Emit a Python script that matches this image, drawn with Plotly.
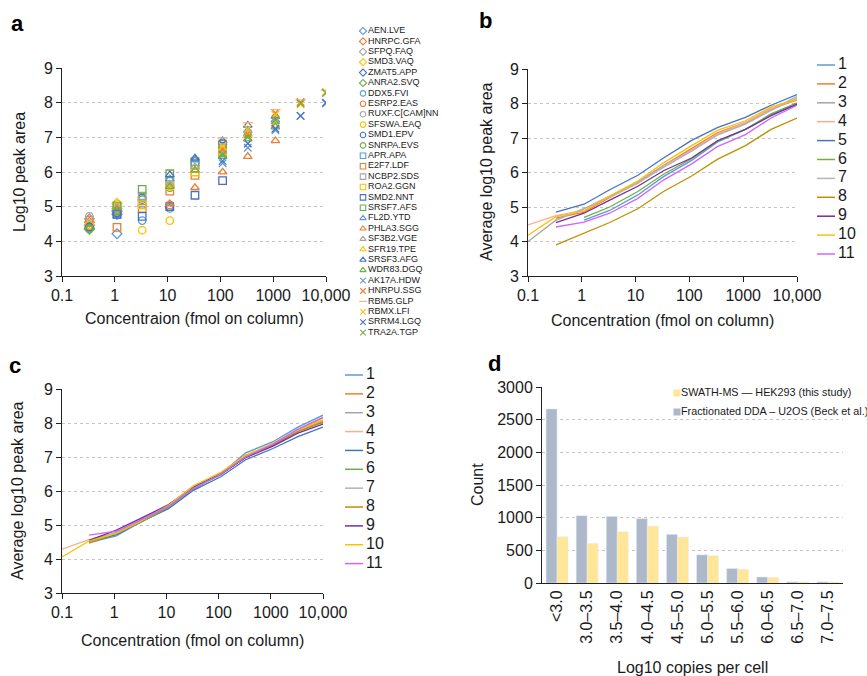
import plotly.graph_objects as go

W, H = 867, 676
FONT = "Liberation Sans, Arial, Helvetica, sans-serif"
TXT = "#1a1a1a"

# ---------------- shared ----------------
conc = [0.1, 0.33, 1.1, 3.3, 11, 33, 110, 330, 1100, 3300, 10000]
conc_ticks = [0.1, 1, 10, 100, 1000, 10000]
conc_ticktext = ["0.1", "1", "10", "100", "1000", "10,000"]
palette6 = ["#5B9BD5", "#ED7D31", "#A5A5A5", "#FFC000", "#4472C4", "#70AD47"]

# ---------------- panel a ----------------
diamond_names = ["AEN.LVE", "HNRPC.GFA", "SFPQ.FAQ", "SMD3.VAQ", "ZMAT5.APP", "ANRA2.SVQ"]
diamond_conc = [0.33, 1.1]
diamond_vals = [[4.45, 4.22], [4.55, 4.90], [4.65, 4.95], [4.48, 5.10], [4.38, 4.78], [4.35, 4.85]]

circle_names = ["DDX5.FVI", "ESRP2.EAS", "RUXF.C[CAM]NN", "SFSWA.EAQ", "SMD1.EPV", "SNRPA.EVS"]
circle_conc = [0.33, 1.1, 3.3, 11]
circle_vals = [[4.40, 4.80, 4.60, 4.95], [4.62, 4.90, 5.05, 5.05], [4.72, 4.95, 5.28, 5.60],
               [4.45, 5.08, 4.32, 4.60], [4.42, 4.82, 5.25, 5.00], [4.36, 4.88, 5.20, 5.55]]

square_names = ["APR.APA", "E2F7.LDF", "NCBP2.SDS", "ROA2.GGN", "SMD2.NNT", "SRSF7.AFS"]
square_conc = [1.1, 3.3, 11, 33, 110]
square_vals = [[4.78, 5.10, 5.75, 6.20, 6.55], [4.40, 4.95, 5.45, 5.90, 6.60], [4.98, 5.30, 5.75, 6.20, 6.70],
               [5.00, 5.05, 5.60, 6.00, 6.65], [4.78, 4.72, 5.00, 5.33, 5.75], [5.02, 5.50, 5.95, 6.30, 6.80]]

triangle_names = ["FL2D.YTD", "PHLA3.SGG", "SF3B2.VGE", "SFR19.TPE", "SRSF3.AFG", "WDR83.DGQ"]
triangle_conc = [11, 33, 110, 330, 1100]
triangle_vals = [[5.80, 6.35, 6.85, 7.20, 7.50], [5.08, 5.55, 6.00, 6.45, 6.90], [5.65, 6.15, 6.60, 7.10, 7.45],
                 [5.60, 6.05, 6.55, 7.05, 7.35], [5.92, 6.40, 6.90, 7.35, 7.60], [5.58, 6.05, 6.45, 6.95, 7.30]]

cross_names = ["AK17A.HDW", "HNRPU.SSG", "RBM5.GLP", "RBMX.LFI", "SRRM4.LGQ", "TRA2A.TGP"]
cross_conc = [110, 330, 1100, 3300, 10000]
cross_vals = [[6.25, 6.70, 7.20, 7.62, 7.98], [6.65, 7.10, 7.70, 8.02, 8.30], [6.98, 7.42, 7.80, 8.08, 8.36],
              [6.75, 7.25, 7.65, 7.95, 8.30], [6.32, 6.82, 7.25, 7.62, 8.00], [6.50, 7.00, 7.50, 7.98, 8.28]]
cross_colors = ["#5B9BD5", "#ED7D31", "#F4B183", "#FFC000", "#4472C4", "#70AD47"]
cross_symbols = ["x-thin-open", "x-thin-open", "line-ew-open", "x-thin-open", "x-thin-open", "x-thin-open"]

# ---------------- panel b ----------------
b_series = ["1", "2", "3", "4", "5", "6", "7", "8", "9", "10", "11"]
line_colors = ["#5B9BD5", "#ED7D31", "#A5A5A5", "#F8B08C", "#4472C4", "#70AD47",
               "#B4B4B4", "#BF9000", "#7030A0", "#FFC000", "#CC66FF"]
b_vals = [
    [None, None, 4.62, 4.90, 5.35, 5.88, 6.35, 6.88, 7.25, 7.68, 8.00],
    [None, 4.68, 4.85, 5.28, 5.70, 6.20, 6.70, 7.15, 7.45, 7.85, 8.10],
    [4.00, 4.62, 4.95, 5.32, 5.72, 6.20, 6.65, 7.10, 7.42, 7.82, 8.20],
    [4.48, 4.75, 4.90, 5.30, 5.68, 6.18, 6.65, 7.12, 7.45, 7.85, 8.12],
    [None, 4.85, 5.08, 5.50, 5.92, 6.42, 6.93, 7.30, 7.60, 7.95, 8.26],
    [None, None, 4.70, 5.00, 5.45, 5.95, 6.40, 6.90, 7.25, 7.70, 8.02],
    [None, 4.62, 4.95, 5.30, 5.70, 6.15, 6.62, 7.08, 7.40, 7.80, 8.15],
    [None, 3.90, 4.25, 4.55, 4.95, 5.45, 5.90, 6.38, 6.78, 7.25, 7.58],
    [None, 4.55, 4.82, 5.20, 5.60, 6.05, 6.42, 6.92, 7.25, 7.65, 7.98],
    [4.18, 4.72, 4.88, 5.32, 5.75, 6.28, 6.78, 7.22, 7.50, 7.90, 8.12],
    [None, 4.42, 4.56, 4.82, 5.25, 5.78, 6.25, 6.75, 7.10, 7.58, 7.95],
]

# ---------------- panel c ----------------
c_vals = [
    [None, 4.48, 4.68, 5.10, 5.50, 6.05, 6.50, 7.12, 7.45, 7.88, 8.23],
    [None, 4.52, 4.76, 5.15, 5.55, 6.12, 6.52, 7.05, 7.38, 7.80, 8.15],
    [None, 4.50, 4.75, 5.12, 5.52, 6.10, 6.48, 7.00, 7.35, 7.75, 8.05],
    [4.29, 4.57, 4.78, 5.15, 5.57, 6.12, 6.52, 7.02, 7.36, 7.78, 8.08],
    [None, 4.50, 4.72, 5.10, 5.48, 6.02, 6.42, 6.92, 7.25, 7.60, 7.88],
    [None, 4.55, 4.75, 5.08, 5.52, 6.08, 6.48, 7.00, 7.35, 7.75, 8.02],
    [None, 4.48, 4.80, 5.15, 5.55, 6.15, 6.50, 7.02, 7.36, 7.76, 8.05],
    [None, 4.47, 4.75, 5.12, 5.55, 6.10, 6.50, 7.02, 7.35, 7.75, 8.03],
    [None, 4.55, 4.85, 5.20, 5.60, 6.12, 6.50, 6.98, 7.32, 7.70, 7.97],
    [4.06, 4.53, 4.75, 5.12, 5.58, 6.15, 6.55, 7.05, 7.40, 7.80, 8.10],
    [None, 4.70, 4.82, 5.15, 5.55, 6.08, 6.50, 7.00, 7.38, 7.82, 8.17],
]

# ---------------- panel d ----------------
d_bins = ["<3.0", "3.0–3.5", "3.5–4.0", "4.0–4.5", "4.5–5.0", "5.0–5.5",
          "5.5–6.0", "6.0–6.5", "6.5–7.0", "7.0–7.5"]
d_dda = [2665, 1030, 1020, 985, 745, 432, 222, 92, 18, 18]
d_swath = [708, 605, 785, 870, 703, 418, 212, 85, 17, 14]
d_names = ["SWATH-MS — HEK293 (this study)", "Fractionated DDA – U2OS (Beck et al.)"]
d_colors = ["#FFE699", "#ADB9CA"]

# ---------------- layout geometry (pixels) ----------------
def fx(px):
    return px / W

def fy(py):
    return 1 - py / H

fig = go.Figure()

groups = [
    (diamond_names, diamond_conc, diamond_vals, ["diamond-open"] * 6, palette6),
    (circle_names, circle_conc, circle_vals, ["circle-open"] * 6, palette6),
    (square_names, square_conc, square_vals, ["square-open"] * 6, palette6),
    (triangle_names, triangle_conc, triangle_vals, ["triangle-up-open"] * 6, palette6),
    (cross_names, cross_conc, cross_vals, cross_symbols, cross_colors),
]
leg_a_names, leg_a_symbols, leg_a_colors = [], [], []
for names, xs, vals, syms, cols in groups:
    for n, v, s, c in zip(names, vals, syms, cols):
        fig.add_trace(go.Scatter(
            x=xs, y=v, mode="markers", name=n, showlegend=False,
            xaxis="x", yaxis="y",
            marker=dict(symbol=s, size=7.5, color=c, line=dict(color=c, width=1.3)),
        ))
        leg_a_names.append(n)
        leg_a_symbols.append(s)
        leg_a_colors.append(c)

for i, (n, v) in enumerate(zip(b_series, b_vals)):
    fig.add_trace(go.Scatter(x=conc, y=v, mode="lines", name=n, showlegend=False,
                             xaxis="x2", yaxis="y2",
                             line=dict(color=line_colors[i], width=1.3)))
for i, (n, v) in enumerate(zip(b_series, c_vals)):
    fig.add_trace(go.Scatter(x=conc, y=v, mode="lines", name=n, showlegend=False,
                             xaxis="x3", yaxis="y3",
                             line=dict(color=line_colors[i], width=1.3)))

fig.add_trace(go.Bar(x=d_bins, y=d_dda, name=d_names[1], marker_color=d_colors[1],
                     showlegend=False, xaxis="x4", yaxis="y4"))
fig.add_trace(go.Bar(x=d_bins, y=d_swath, name=d_names[0], marker_color=d_colors[0],
                     showlegend=False, xaxis="x4", yaxis="y4"))

# ---------------- custom legends on a pixel overlay ----------------
LA_X, LA_Y0, LA_DY = 363, 31, 10.4
n_a = len(leg_a_names)
ya = [LA_Y0 + i * LA_DY for i in range(n_a)]
fig.add_trace(go.Scatter(
    x=[LA_X] * n_a, y=ya, mode="markers", xaxis="x5", yaxis="y5", showlegend=False,
    hoverinfo="skip", cliponaxis=False,
    marker=dict(symbol=leg_a_symbols, size=5.5, color=leg_a_colors,
                line=dict(color=leg_a_colors, width=1.1))))
fig.add_trace(go.Scatter(
    x=[LA_X + 5] * n_a, y=ya, mode="text", text=leg_a_names, textposition="middle right",
    textfont=dict(size=9, color=TXT, family=FONT), xaxis="x5", yaxis="y5",
    showlegend=False, hoverinfo="skip", cliponaxis=False))

def line_legend(x0, x1, y0, dy):
    ys = [y0 + i * dy for i in range(len(b_series))]
    for i, yy in enumerate(ys):
        fig.add_trace(go.Scatter(x=[x0, x1], y=[yy, yy], mode="lines", xaxis="x5", yaxis="y5",
                                 showlegend=False, hoverinfo="skip", cliponaxis=False,
                                 line=dict(color=line_colors[i], width=1.5)))
    fig.add_trace(go.Scatter(x=[x1 + 3] * len(ys), y=ys, mode="text", text=b_series,
                             textposition="middle right",
                             textfont=dict(size=16, color=TXT, family=FONT),
                             xaxis="x5", yaxis="y5", showlegend=False, hoverinfo="skip",
                             cliponaxis=False))

line_legend(817, 835, 65, 18.9)
line_legend(345, 363, 375, 18.86)

LD_X, LD_Y0, LD_DY = 677, 393, 19
yd = [LD_Y0 + i * LD_DY for i in range(2)]
fig.add_trace(go.Scatter(x=[LD_X] * 2, y=yd, mode="markers", xaxis="x5", yaxis="y5",
                         showlegend=False, hoverinfo="skip", cliponaxis=False,
                         marker=dict(symbol="square", size=7, color=d_colors)))
fig.add_trace(go.Scatter(x=[LD_X + 4] * 2, y=yd, mode="text", text=d_names,
                         textposition="middle right",
                         textfont=dict(size=10.8, color=TXT, family=FONT),
                         xaxis="x5", yaxis="y5", showlegend=False, hoverinfo="skip",
                         cliponaxis=False))

# white legend box of panel d, hiding the top gridline behind it
fig.add_shape(type="rect", xref="x5", yref="y5", x0=653, x1=W, y0=382, y1=392,
              fillcolor="white", line=dict(width=0), layer="below")

# ---------------- axes ----------------
axis_common = dict(showline=True, linecolor="#222222", linewidth=1, ticks="outside",
                   ticklen=5, tickcolor="#222222", tickfont=dict(size=16, color=TXT, family=FONT),
                   zeroline=False, automargin=False)
logx = dict(type="log", range=[-1, 4], tickvals=conc_ticks, ticktext=conc_ticktext,
            showgrid=False, **axis_common)
liny = dict(range=[3, 9], dtick=1, showgrid=True, gridcolor="#C4C4C4", griddash="dot",
            gridwidth=1, **axis_common)

fig.update_layout(
    xaxis=dict(domain=[fx(62), fx(326)], anchor="y", **logx),
    yaxis=dict(domain=[fy(276), fy(68)], anchor="x", **liny),
    xaxis2=dict(domain=[fx(528), fx(797)], anchor="y2", **logx),
    yaxis2=dict(domain=[fy(276), fy(69)], anchor="x2", **liny),
    xaxis3=dict(domain=[fx(62), fx(323)], anchor="y3", **logx),
    yaxis3=dict(domain=[fy(593), fy(389)], anchor="x3", **liny),
    xaxis4=dict(domain=[fx(542), fx(843)], anchor="y4", type="category", tickangle=-90,
                showgrid=False, showline=True, linecolor="#222222", ticks="", automargin=False,
                tickfont=dict(size=16, color=TXT, family=FONT)),
    yaxis4=dict(domain=[fy(583), fy(387)], anchor="x4", range=[0, 3000], dtick=500,
                showgrid=True, gridcolor="#C4C4C4", griddash="dot", **axis_common),
    xaxis5=dict(domain=[0, 1], range=[0, W], visible=False, fixedrange=True, anchor="y5",
                automargin=False),
    yaxis5=dict(domain=[0, 1], range=[H, 0], visible=False, fixedrange=True, anchor="x5",
                automargin=False),
    barmode="group", bargap=0.27, bargroupgap=0,
    width=W, height=H, autosize=False,
    margin=dict(l=0, r=0, t=0, b=0),
    paper_bgcolor="white", plot_bgcolor="rgba(0,0,0,0)",
    font=dict(family=FONT, color=TXT, size=16),
    showlegend=False,
)

def ann(text, px, py, size=16, angle=0, bold=False):
    fig.add_annotation(text=f"<b>{text}</b>" if bold else text, x=fx(px), y=fy(py),
                       xref="paper", yref="paper", showarrow=False, textangle=angle,
                       xanchor="center", yanchor="middle",
                       font=dict(size=size, color="#000" if bold else TXT, family=FONT))

ann("a", 17, 24, 22, bold=True)
ann("b", 485, 20, 22, bold=True)
ann("c", 15, 365, 22, bold=True)
ann("d", 494, 363, 22, bold=True)

ann("Log10 peak area", 20, 172, angle=-90)
ann("Concentraion (fmol on column)", 194, 318)
ann("Average log10 peak area", 487, 172, angle=-90)
ann("Concentration (fmol on column)", 662, 320)
ann("Average log10 peak area", 17, 491, angle=-90)
ann("Concentration (fmol on column)", 192, 640)
ann("Count", 478, 485, angle=-90)
ann("Log10 copies per cell", 692, 667)

fig.write_html(
    "out.html",
    config={"displayModeBar": False},
    post_script="document.body.style.margin='0px';document.body.style.overflow='hidden';",
)
